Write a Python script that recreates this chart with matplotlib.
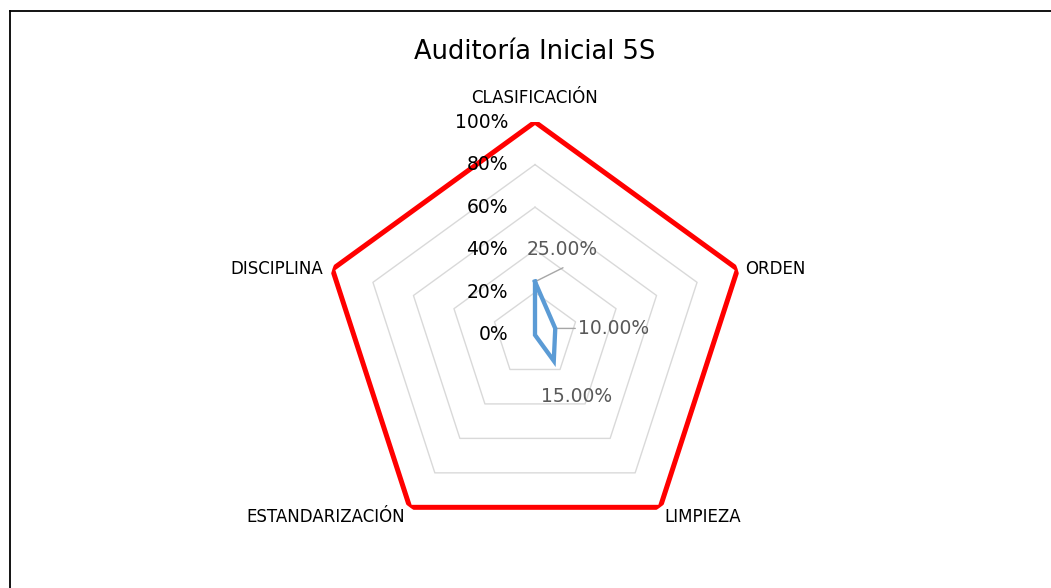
import numpy as np
import matplotlib
matplotlib.use("Agg")
import matplotlib.pyplot as plt
from matplotlib.lines import Line2D

categories = ["CLASIFICACIÓN", "ORDEN", "LIMPIEZA", "ESTANDARIZACIÓN", "DISCIPLINA"]
inicial = [0.25, 0.10, 0.15, 0.0, 0.0]
meta = [1.0, 1.0, 1.0, 1.0, 1.0]
inicial_labels = ["25.00%", "10.00%", "15.00%", None, None]
ring_levels = [0.2, 0.4, 0.6, 0.8, 1.0]
tick_labels = ["0%", "20%", "40%", "60%", "80%", "100%"]
tick_values = [0.0, 0.2, 0.4, 0.6, 0.8, 1.0]

plt.rcParams["font.family"] = ["DejaVu Sans"]

W, H, DPI = 1051, 588, 100
fig = plt.figure(figsize=(W / DPI, H / DPI), dpi=DPI)

cx, cy, R = 535, 335, 213
ax = fig.add_axes([(cx - R) / W, (H - cy - R) / H, 2 * R / W, 2 * R / H], projection="polar")
ax.set_theta_offset(np.pi / 2)
ax.set_theta_direction(-1)
ax.set_ylim(0, 1)
ax.grid(False)
ax.set_xticks([])
ax.set_yticks([])
ax.spines["polar"].set_visible(False)
ax.patch.set_alpha(0)

n = len(categories)
angles = np.arange(n) * 2 * np.pi / n
ang_closed = np.append(angles, angles[0])

# pentagon gridlines
for lvl in ring_levels:
    ax.plot(ang_closed, [lvl] * (n + 1), color="#d9d9d9", lw=1.0, zorder=1)

ax.plot(ang_closed, meta + meta[:1], color="#ff0000", lw=3.6, zorder=3, solid_joinstyle="miter")
ax.plot(ang_closed, inicial + inicial[:1], color="#5b9bd5", lw=3.1, zorder=4, solid_joinstyle="miter")

# radial tick labels
for v, t in zip(tick_values, tick_labels):
    ax.annotate(t, xy=(0, v), xytext=(-27, 0), textcoords="offset pixels",
                ha="right", va="center", fontsize=13.5, color="#000000")

# category labels
cat_offsets = [(0, 24, "center", "center"), (8, 0, "left", "center"),
               (4, -10, "left", "center"), (-5, -10, "right", "center"),
               (-9, 0, "right", "center")]
for a, c, (dx, dy, ha, va) in zip(angles, categories, cat_offsets):
    ax.annotate(c, xy=(a, 1.0), xytext=(dx, dy), textcoords="offset pixels",
                ha=ha, va=va, fontsize=12, color="#000000", annotation_clip=False)

# data labels
for i, lab in enumerate(inicial_labels):
    if lab is None:
        continue
    pt = (angles[i], inicial[i])
    if i == 0:
        ax.annotate("", xy=pt, xytext=(28, 14), textcoords="offset pixels",
                    arrowprops=dict(arrowstyle="-", color="#a6a6a6", lw=1.0, shrinkA=0, shrinkB=0))
        ax.annotate(lab, xy=pt, xytext=(27, 32), textcoords="offset pixels",
                    ha="center", va="center", fontsize=13.5, color="#595959")
    elif i == 1:
        ax.annotate("", xy=pt, xytext=(20, 0), textcoords="offset pixels",
                    arrowprops=dict(arrowstyle="-", color="#a6a6a6", lw=1.0, shrinkA=0, shrinkB=0))
        ax.annotate(lab, xy=pt, xytext=(23, 0), textcoords="offset pixels",
                    ha="left", va="center", fontsize=13.5, color="#595959")
    else:
        ax.annotate(lab, xy=pt, xytext=(23, -36), textcoords="offset pixels",
                    ha="center", va="center", fontsize=13.5, color="#595959")

fig.text(535 / W, 1 - 52 / H, "Auditoría Inicial 5S", ha="center", va="center", fontsize=18.5, color="#000000")

# chart-area border (left and top edges visible)
fig.add_artist(Line2D([9.5 / W, 9.5 / W], [0, 1 - 10.5 / H], transform=fig.transFigure, color="#000000", lw=1.3))
fig.add_artist(Line2D([9.5 / W, 1], [1 - 10.5 / H, 1 - 10.5 / H], transform=fig.transFigure, color="#000000", lw=1.3))

fig.savefig("out.png", dpi=DPI)
